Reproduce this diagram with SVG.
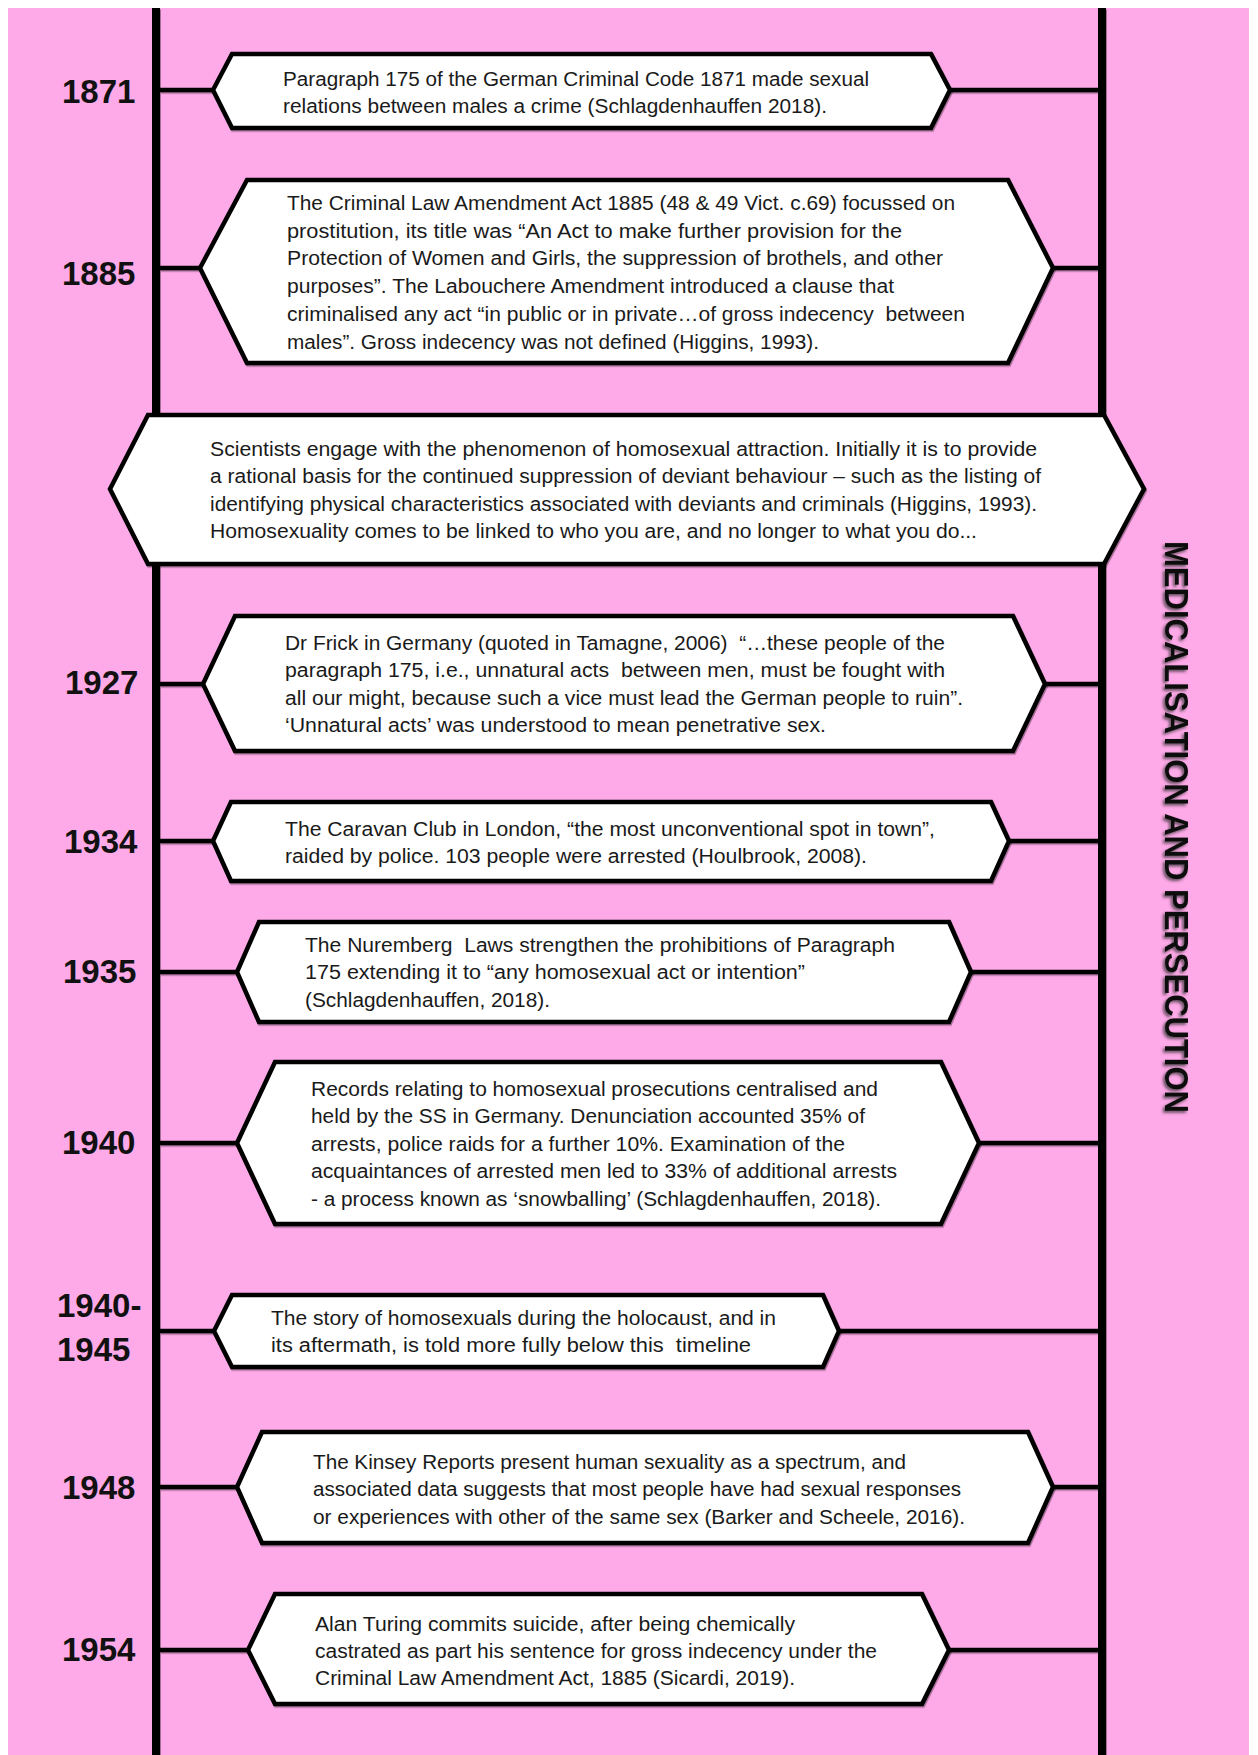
<svg xmlns="http://www.w3.org/2000/svg" width="1258" height="1755" viewBox="0 0 1258 1755">
  <style>
    .page { fill: #ffffff; }
    .band { fill: #fea9e8; }
    .spine { stroke: #000; stroke-width: 8; fill: none; }
    .link { stroke: #000; stroke-width: 4.5; fill: none; }
    .hex { fill: #ffffff; stroke: #000; stroke-width: 4.5; stroke-linejoin: miter; }
    .body { font-family: "Liberation Sans", Arial, sans-serif; font-size: 20px; fill: #1a1a1a; white-space: pre; }
    .year { font-family: "Liberation Sans", Arial, sans-serif; font-size: 33px; font-weight: bold; fill: #111; }
    .title { font-family: "Liberation Sans", Arial, sans-serif; font-size: 34px; font-weight: bold; fill: #111; }
  </style>
  <defs>
    <filter id="soft" filterUnits="userSpaceOnUse" x="0" y="0" width="1258" height="1755">
      <feDropShadow dx="1" dy="1.5" stdDeviation="0.7" flood-color="#000" flood-opacity="0.35"/>
    </filter>
    <filter id="glow" x="-10%" y="-40%" width="120%" height="180%">
      <feDropShadow dx="2" dy="2" stdDeviation="1.6" flood-color="#333" flood-opacity="0.75"/>
    </filter>
  </defs>

  <!-- page and pink band -->
  <rect class="page" x="0" y="0" width="1258" height="1755"/>
  <rect class="band" x="8" y="8" width="1241" height="1747"/>

  <!-- timeline spines and ties to the event boxes -->
  <g id="connectors" filter="url(#soft)">
    <line class="spine" x1="156" y1="8" x2="156" y2="1755"/>
    <line class="spine" x1="1102" y1="8" x2="1102" y2="1755"/>
    <line class="link" x1="156" y1="90" x2="213" y2="90"/>
    <line class="link" x1="950" y1="90" x2="1102" y2="90"/>
    <line class="link" x1="156" y1="268" x2="200" y2="268"/>
    <line class="link" x1="1053" y1="268" x2="1102" y2="268"/>
    <line class="link" x1="156" y1="684" x2="203" y2="684"/>
    <line class="link" x1="1045" y1="684" x2="1102" y2="684"/>
    <line class="link" x1="156" y1="841" x2="213" y2="841"/>
    <line class="link" x1="1009" y1="841" x2="1102" y2="841"/>
    <line class="link" x1="156" y1="972" x2="237" y2="972"/>
    <line class="link" x1="971" y1="972" x2="1102" y2="972"/>
    <line class="link" x1="156" y1="1143" x2="237" y2="1143"/>
    <line class="link" x1="979" y1="1143" x2="1102" y2="1143"/>
    <line class="link" x1="156" y1="1331" x2="214" y2="1331"/>
    <line class="link" x1="839" y1="1331" x2="1102" y2="1331"/>
    <line class="link" x1="156" y1="1487" x2="237" y2="1487"/>
    <line class="link" x1="1053" y1="1487" x2="1102" y2="1487"/>
    <line class="link" x1="156" y1="1650" x2="248" y2="1650"/>
    <line class="link" x1="949" y1="1650" x2="1102" y2="1650"/>
  </g>

  <!-- year labels -->
  <g id="years">
    <text class="year" x="62" y="103">1871</text>
    <text class="year" x="62" y="285">1885</text>
    <text class="year" x="65" y="694">1927</text>
    <text class="year" x="64" y="853">1934</text>
    <text class="year" x="63" y="983">1935</text>
    <text class="year" x="62" y="1154">1940</text>
    <text class="year" x="57" y="1317">1940-</text>
    <text class="year" x="57" y="1361">1945</text>
    <text class="year" x="62" y="1499">1948</text>
    <text class="year" x="62" y="1661">1954</text>
  </g>

  <g id="event-1871">
    <polygon class="hex" filter="url(#soft)" points="213,90 232,54 931,54 950,90 931,128 232,128"/>
    <text class="body" x="283" y="86" textLength="586" lengthAdjust="spacingAndGlyphs">Paragraph 175 of the German Criminal Code 1871 made sexual</text>
    <text class="body" x="283" y="113" textLength="544" lengthAdjust="spacingAndGlyphs">relations between males a crime (Schlagdenhauffen 2018).</text>
  </g>

  <g id="event-1885">
    <polygon class="hex" filter="url(#soft)" points="200,268 247,180 1008,180 1053,268 1008,363 247,363"/>
    <text class="body" x="287" y="210" textLength="668" lengthAdjust="spacingAndGlyphs">The Criminal Law Amendment Act 1885 (48 &amp; 49 Vict. c.69) focussed on</text>
    <text class="body" x="287" y="237.7" textLength="615" lengthAdjust="spacingAndGlyphs">prostitution, its title was “An Act to make further provision for the</text>
    <text class="body" x="287" y="265.4" textLength="656" lengthAdjust="spacingAndGlyphs">Protection of Women and Girls, the suppression of brothels, and other</text>
    <text class="body" x="287" y="293.1" textLength="607" lengthAdjust="spacingAndGlyphs">purposes”. The Labouchere Amendment introduced a clause that</text>
    <text class="body" x="287" y="320.8" textLength="678" lengthAdjust="spacingAndGlyphs">criminalised any act “in public or in private…of gross indecency  between</text>
    <text class="body" x="287" y="348.5" textLength="532" lengthAdjust="spacingAndGlyphs">males”. Gross indecency was not defined (Higgins, 1993).</text>
  </g>

  <g id="event-medicalisation">
    <polygon class="hex" filter="url(#soft)" points="110,489 148,415 1104,415 1144,489 1104,564 148,564"/>
    <text class="body" x="210" y="456" textLength="827" lengthAdjust="spacingAndGlyphs">Scientists engage with the phenomenon of homosexual attraction. Initially it is to provide</text>
    <text class="body" x="210" y="483.4" textLength="831" lengthAdjust="spacingAndGlyphs">a rational basis for the continued suppression of deviant behaviour – such as the listing of</text>
    <text class="body" x="210" y="510.8" textLength="827" lengthAdjust="spacingAndGlyphs">identifying physical characteristics associated with deviants and criminals (Higgins, 1993).</text>
    <text class="body" x="210" y="538.2" textLength="767" lengthAdjust="spacingAndGlyphs">Homosexuality comes to be linked to who you are, and no longer to what you do...</text>
  </g>

  <g id="event-1927">
    <polygon class="hex" filter="url(#soft)" points="203,684 235,616 1013,616 1045,684 1013,751 235,751"/>
    <text class="body" x="285" y="650" textLength="660" lengthAdjust="spacingAndGlyphs">Dr Frick in Germany (quoted in Tamagne, 2006)  “…these people of the</text>
    <text class="body" x="285" y="677.3" textLength="660" lengthAdjust="spacingAndGlyphs">paragraph 175, i.e., unnatural acts  between men, must be fought with</text>
    <text class="body" x="285" y="704.6" textLength="678" lengthAdjust="spacingAndGlyphs">all our might, because such a vice must lead the German people to ruin”.</text>
    <text class="body" x="285" y="731.9" textLength="541" lengthAdjust="spacingAndGlyphs">‘Unnatural acts’ was understood to mean penetrative sex.</text>
  </g>

  <g id="event-1934">
    <polygon class="hex" filter="url(#soft)" points="213,841 231,802 991,802 1009,841 991,881 231,881"/>
    <text class="body" x="285" y="835.5" textLength="650" lengthAdjust="spacingAndGlyphs">The Caravan Club in London, “the most unconventional spot in town”,</text>
    <text class="body" x="285" y="863" textLength="582" lengthAdjust="spacingAndGlyphs">raided by police. 103 people were arrested (Houlbrook, 2008).</text>
  </g>

  <g id="event-1935">
    <polygon class="hex" filter="url(#soft)" points="237,972 259,922 949,922 971,972 949,1022 259,1022"/>
    <text class="body" x="305" y="951.5" textLength="590" lengthAdjust="spacingAndGlyphs">The Nuremberg  Laws strengthen the prohibitions of Paragraph</text>
    <text class="body" x="305" y="979" textLength="500" lengthAdjust="spacingAndGlyphs">175 extending it to “any homosexual act or intention”</text>
    <text class="body" x="305" y="1006.5" textLength="245" lengthAdjust="spacingAndGlyphs">(Schlagdenhauffen, 2018).</text>
  </g>

  <g id="event-1940">
    <polygon class="hex" filter="url(#soft)" points="237,1143 275,1062 941,1062 979,1143 941,1224 275,1224"/>
    <text class="body" x="311" y="1095.5" textLength="567" lengthAdjust="spacingAndGlyphs">Records relating to homosexual prosecutions centralised and</text>
    <text class="body" x="311" y="1123" textLength="554" lengthAdjust="spacingAndGlyphs">held by the SS in Germany. Denunciation accounted 35% of</text>
    <text class="body" x="311" y="1150.5" textLength="534" lengthAdjust="spacingAndGlyphs">arrests, police raids for a further 10%. Examination of the</text>
    <text class="body" x="311" y="1178" textLength="586" lengthAdjust="spacingAndGlyphs">acquaintances of arrested men led to 33% of additional arrests</text>
    <text class="body" x="311" y="1205.5" textLength="570" lengthAdjust="spacingAndGlyphs">- a process known as ‘snowballing’ (Schlagdenhauffen, 2018).</text>
  </g>

  <g id="event-1940-1945">
    <polygon class="hex" filter="url(#soft)" points="214,1331 232,1295 823,1295 839,1331 823,1367 232,1367"/>
    <text class="body" x="271" y="1324.5" textLength="505" lengthAdjust="spacingAndGlyphs">The story of homosexuals during the holocaust, and in</text>
    <text class="body" x="271" y="1352" textLength="480" lengthAdjust="spacingAndGlyphs">its aftermath, is told more fully below this  timeline</text>
  </g>

  <g id="event-1948">
    <polygon class="hex" filter="url(#soft)" points="237,1487 262,1432 1028,1432 1053,1487 1028,1543 262,1543"/>
    <text class="body" x="313" y="1468.5" textLength="593" lengthAdjust="spacingAndGlyphs">The Kinsey Reports present human sexuality as a spectrum, and</text>
    <text class="body" x="313" y="1496" textLength="648" lengthAdjust="spacingAndGlyphs">associated data suggests that most people have had sexual responses</text>
    <text class="body" x="313" y="1523.5" textLength="652" lengthAdjust="spacingAndGlyphs">or experiences with other of the same sex (Barker and Scheele, 2016).</text>
  </g>

  <g id="event-1954">
    <polygon class="hex" filter="url(#soft)" points="248,1650 275,1594 922,1594 949,1650 922,1704 275,1704"/>
    <text class="body" x="315" y="1631" textLength="480" lengthAdjust="spacingAndGlyphs">Alan Turing commits suicide, after being chemically</text>
    <text class="body" x="315" y="1658" textLength="562" lengthAdjust="spacingAndGlyphs">castrated as part his sentence for gross indecency under the</text>
    <text class="body" x="315" y="1685" textLength="480" lengthAdjust="spacingAndGlyphs">Criminal Law Amendment Act, 1885 (Sicardi, 2019).</text>
  </g>

  <!-- section heading running down the right margin -->
  <g id="section-title">
    <text class="title" x="1165" y="541" transform="rotate(90 1165 541)" textLength="572" lengthAdjust="spacingAndGlyphs" filter="url(#glow)">MEDICALISATION AND PERSECUTION</text>
  </g>
</svg>
